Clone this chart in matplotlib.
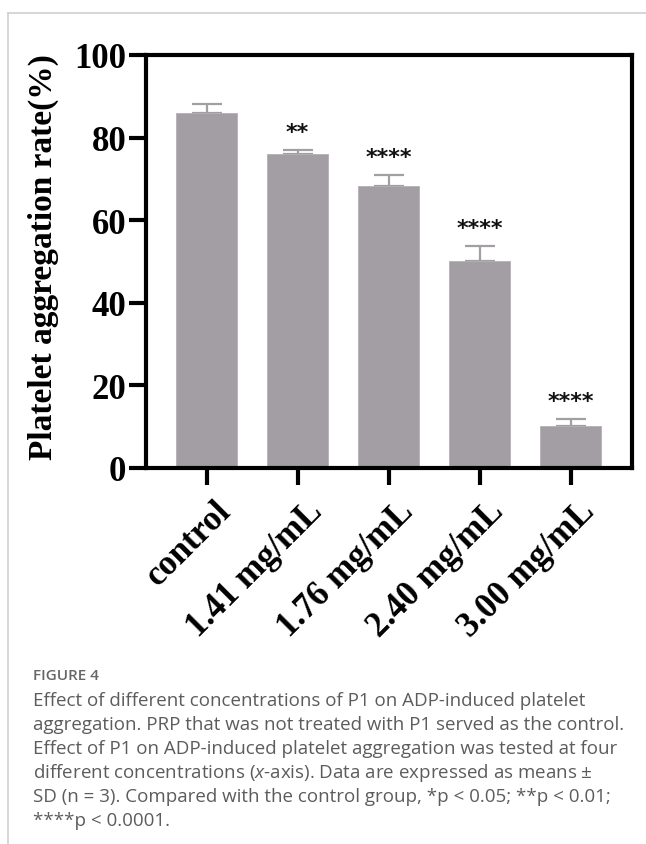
import matplotlib
matplotlib.use("Agg")
import matplotlib.pyplot as plt
import matplotlib.transforms as mtransforms
from matplotlib.lines import Line2D

# values
groups = ["control", "1.41 mg/mL", "1.76 mg/mL", "2.40 mg/mL", "3.00 mg/mL"]
means = [85.9, 76.0, 68.2, 50.1, 10.2]
sd = [2.2, 1.0, 2.7, 3.6, 1.7]
stars = ["", "**", "****", "****", "****"]
yticks = [0, 20, 40, 60, 80, 100]

caption_title = "FIGURE 4"
caption_lines = [
    "Effect of different concentrations of P1 on ADP-induced platelet",
    "aggregation. PRP that was not treated with P1 served as the control.",
    "Effect of P1 on ADP-induced platelet aggregation was tested at four",
    "different concentrations ($x$-axis). Data are expressed as means \u00b1",
    "SD (n = 3). Compared with the control group, *p < 0.05; **p < 0.01;",
    "****p < 0.0001.",
]

plt.rcParams["mathtext.fontset"] = "custom"
plt.rcParams["mathtext.rm"] = "Open Sans"
plt.rcParams["mathtext.it"] = "Open Sans:italic"

bar_color = "#a39ea3"
W, H = 646, 845
fig = plt.figure(figsize=(W / 100, H / 100), dpi=100)

# page frame (light grey border at top and left)
fig.add_artist(Line2D([8 / W, 1], [1 - 14 / H, 1 - 14 / H], color="#d0d0d0", lw=1.2))
fig.add_artist(Line2D([8 / W, 8 / W], [0, 1 - 14 / H], color="#d0d0d0", lw=1.2))

ax = fig.add_axes([145.7 / W, 1 - 469 / H, (631.5 - 145.7) / W, (469 - 56) / H])

x = range(len(groups))
ax.bar(x, means, width=0.67, color=bar_color, edgecolor="#b5b0b5", linewidth=0.6, zorder=2)
ax.errorbar(x, means, yerr=[[0] * len(sd), sd], fmt="none", ecolor=bar_color,
            elinewidth=1.6, capsize=11, capthick=1.6, zorder=1)

for i, (m, s, st) in enumerate(zip(means, sd, stars)):
    if st:
        ax.text(i, m + s + 2.0, st, ha="center", va="bottom", fontsize=16,
                family="DejaVu Sans", fontweight="bold", color="#111111")

ax.set_xlim(-0.67, 4.67)
ax.set_ylim(0, 100)
ax.set_yticks(yticks)
ax.set_yticklabels([str(t) for t in yticks])
ax.set_xticks(list(x))
ax.set_xticklabels(groups, rotation=45, ha="right", rotation_mode="anchor")

for sp in ax.spines.values():
    sp.set_linewidth(3)
    sp.set_color("black")

ax.tick_params(axis="both", length=12, width=3, color="black")
ax.tick_params(axis="y", pad=2)
ax.tick_params(axis="x", pad=7)

for lab in ax.get_xticklabels() + ax.get_yticklabels():
    lab.set_fontfamily("Liberation Serif")
    lab.set_fontweight("bold")
    lab.set_fontsize(25)

# nudge the slanted labels a little to the right, like the original
# (done after tick_params, which resets the label transforms)
shift = mtransforms.ScaledTranslation(8 / 100, 0, fig.dpi_scale_trans)
for tick in ax.xaxis.get_major_ticks():
    tick.label1.set_transform(tick.label1.get_transform() + shift)

fig.text(43 / W, 1 - 257 / H, "Platelet aggregation rate(%)", rotation=90,
         ha="center", va="center", family="Liberation Serif", fontweight="bold",
         fontsize=24)

# caption
fig.text(33 / W, 1 - 676 / H, caption_title, ha="left", va="center",
         family="Open Sans", fontsize=11, fontweight="semibold", color="#666666")
for k, line in enumerate(caption_lines):
    fig.text(33 / W, 1 - (701 + 24 * k) / H, line, ha="left", va="center",
             family="Open Sans", fontsize=13.5, color="#5c5c5c")

fig.savefig("out.png", dpi=100)
